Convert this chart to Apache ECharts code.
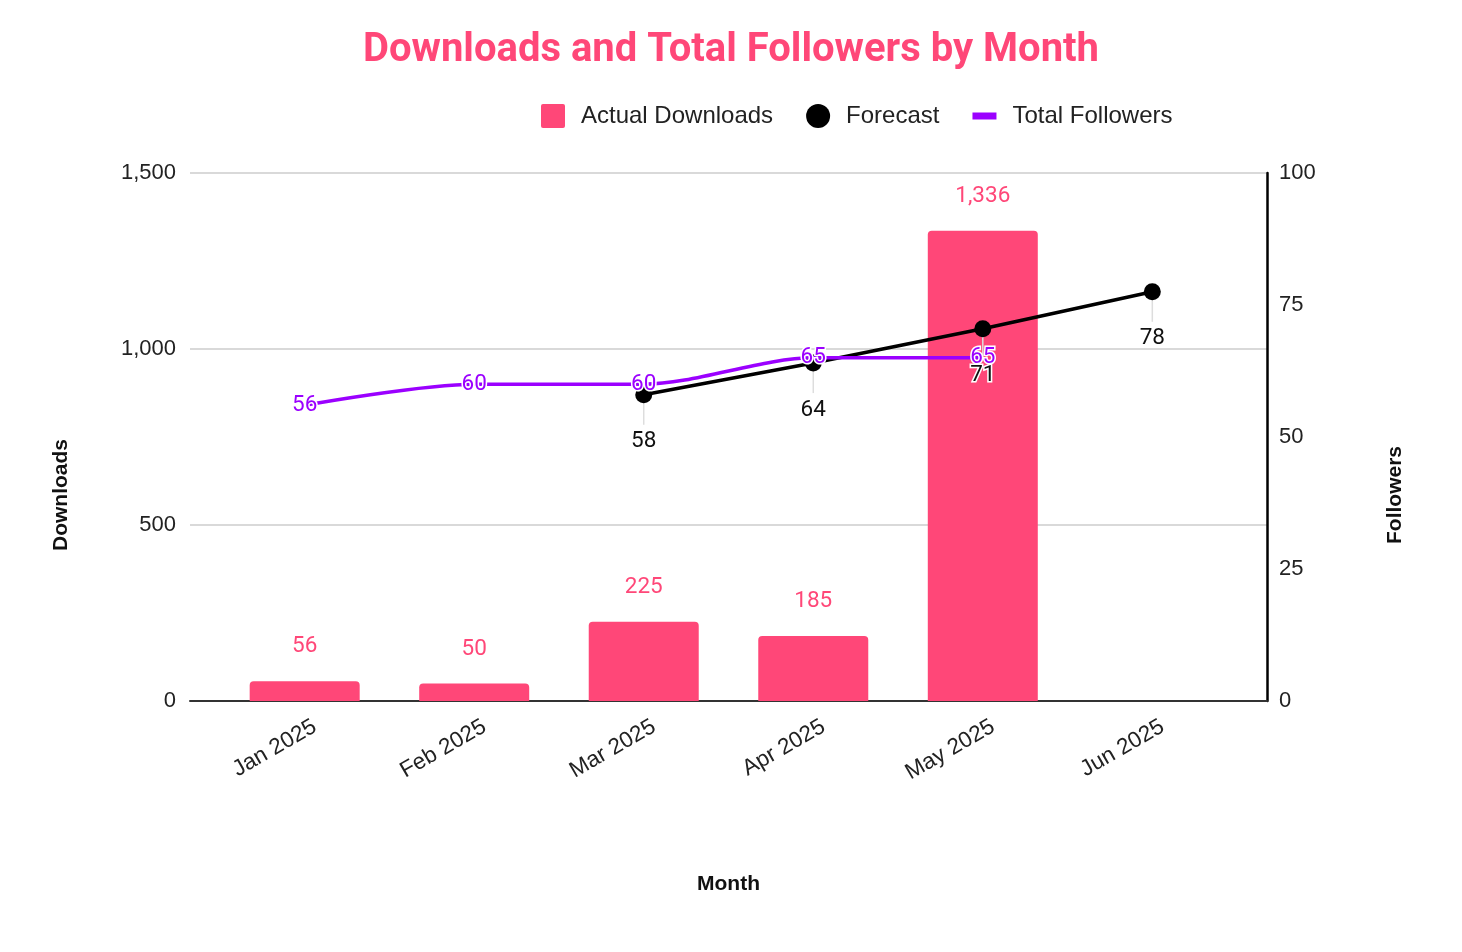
<!DOCTYPE html>
<html>
<head>
<meta charset="utf-8">
<title>Downloads and Total Followers by Month</title>
<script src="https://cdn.jsdelivr.net/npm/echarts@6/dist/echarts.min.js"></script>
<style>
  html, body { margin: 0; padding: 0; background: #fff; }
  #chart { width: 1462px; height: 952px; }
</style>
</head>
<body>
<div id="chart"></div>
<script>
// data
var months = ['Jan 2025', 'Feb 2025', 'Mar 2025', 'Apr 2025', 'May 2025', 'Jun 2025'];
var downloads = [56, 50, 225, 185, 1336, null];
var forecast = [null, null, 58, 64, 70.5, 77.5];
var followers = [56, 60, 60, 65, 65, null];
var downloadTicks = [0, 500, 1000, 1500];
var followerTicks = [0, 25, 50, 75, 100];

var pink = '#ff4778';
var purple = '#9b00ff';

function pairs(arr) {
    var out = [];
    arr.forEach(function (v, i) {
        if (v !== null) out.push([i, v]);
    });
    return out;
}

var myChart = echarts.init(document.getElementById('chart'));
var option = {
    backgroundColor: '#fff',
    title: {
        text: 'Downloads and Total Followers by Month',
        left: 'center',
        top: 26,
        textStyle: {
            color: pink,
            fontFamily: 'Roboto',
            fontWeight: 'bold',
            fontSize: 40
        }
    },
    legend: {
        top: 99,
        left: 536,
        itemGap: 33,
        itemWidth: 24,
        itemHeight: 24,
        textStyle: {
            fontFamily: 'Liberation Sans',
            fontSize: 24,
            color: '#222',
            padding: [0, 0, 0, 11]
        },
        data: [
            { name: 'Actual Downloads', icon: 'path://M2,0 L22,0 Q24,0 24,2 L24,22 Q24,24 22,24 L2,24 Q0,24 0,22 L0,2 Q0,0 2,0 Z' },
            { name: 'Forecast', icon: 'circle' },
            { name: 'Total Followers', icon: 'path://M0,0 L24,0 L24,7 L0,7 Z' }
        ]
    },
    grid: {
        left: 190,
        right: 195,
        top: 173,
        bottom: 251
    },
    xAxis: {
        type: 'value',
        min: -0.5 - 30 / 170,
        max: 5.5 + 30 / 170,
        name: 'Month',
        nameLocation: 'middle',
        nameGap: 173,
        nameTextStyle: {
            fontFamily: 'Liberation Sans',
            fontWeight: 'bold',
            fontSize: 21,
            color: '#111'
        },
        axisLine: { show: true, onZero: false, lineStyle: { color: '#333', width: 2 } },
        axisTick: { show: false },
        splitLine: { show: false },
        axisLabel: {
            // labels sit a little right of each bar centre, as in the original
            customValues: [0.06, 1.06, 2.06, 3.06, 4.06, 5.06],
            rotate: 30,
            margin: 24,
            fontFamily: 'Liberation Sans',
            fontSize: 22.5,
            color: '#222',
            formatter: function (v) { return months[Math.round(v)] || ''; }
        }
    },
    yAxis: [{
        type: 'value',
        min: downloadTicks[0],
        max: downloadTicks[downloadTicks.length - 1],
        interval: 500,
        name: 'Downloads',
        nameLocation: 'middle',
        nameRotate: 90,
        nameGap: 118,
        nameTextStyle: {
            fontFamily: 'Liberation Sans',
            fontWeight: 'bold',
            fontSize: 21,
            color: '#111',
            padding: [0, 116, 0, 0]
        },
        axisLine: { show: false },
        axisTick: { show: false },
        axisLabel: {
            margin: 14,
            fontFamily: 'Liberation Sans',
            fontSize: 22,
            color: '#222',
            formatter: function (v) { return v.toLocaleString('en-US'); }
        },
        splitLine: { lineStyle: { color: '#cccccc', width: 1.5 } }
    }, {
        type: 'value',
        position: 'right',
        min: followerTicks[0],
        max: followerTicks[followerTicks.length - 1],
        interval: 25,
        name: 'Followers',
        nameLocation: 'middle',
        nameRotate: 90,
        nameGap: 118,
        nameTextStyle: {
            fontFamily: 'Liberation Sans',
            fontWeight: 'bold',
            fontSize: 21,
            color: '#111',
            padding: [0, 116, 0, 0]
        },
        axisLine: { show: true, lineStyle: { color: '#000', width: 2.5 } },
        axisTick: { show: false },
        axisLabel: {
            margin: 12,
            fontFamily: 'Liberation Sans',
            fontSize: 22,
            color: '#222'
        },
        splitLine: { show: false }
    }],
    series: [{
        name: 'Actual Downloads',
        type: 'bar',
        yAxisIndex: 0,
        barWidth: 110,
        data: pairs(downloads),
        itemStyle: { color: pink, borderRadius: [4, 4, 0, 0] },
        label: {
            show: true,
            position: 'top',
            distance: 23,
            fontFamily: 'Roboto',
            fontSize: 22.5,
            color: pink,
            formatter: function (p) { return p.value[1].toLocaleString('en-US'); }
        },
        z: 2
    }, {
        // leader lines under forecast points
        name: 'forecastLeader',
        type: 'line',
        yAxisIndex: 1,
        data: pairs(forecast),
        lineStyle: { opacity: 0 },
        symbol: 'rect',
        symbolSize: [1.5, 22],
        symbolOffset: [0, 19],
        itemStyle: { color: '#dddddd' },
        silent: true,
        z: 3
    }, {
        name: 'Forecast',
        type: 'line',
        yAxisIndex: 1,
        data: pairs(forecast),
        symbol: 'circle',
        symbolSize: 17,
        showAllSymbol: true,
        lineStyle: { color: '#000', width: 3.5 },
        itemStyle: { color: '#000' },
        label: {
            show: true,
            position: 'bottom',
            distance: 27,
            fontFamily: 'Roboto',
            fontSize: 22.5,
            color: '#111',
            textBorderColor: '#fff',
            textBorderWidth: 3,
            formatter: function (p) { return Math.round(p.value[1]); }
        },
        z: 4
    }, {
        name: 'Total Followers',
        type: 'line',
        yAxisIndex: 1,
        data: pairs(followers),
        smooth: 0.3,
        symbol: 'none',
        lineStyle: { color: purple, width: 3.5 },
        itemStyle: { color: purple },
        z: 5
    }, {
        // value labels for followers, kept above the line
        name: 'followersLabels',
        type: 'scatter',
        yAxisIndex: 1,
        data: pairs(followers),
        symbolSize: 2,
        itemStyle: { color: purple, opacity: 1 },
        label: {
            show: true,
            position: ['50%', '50%'],
            align: 'center',
            verticalAlign: 'middle',
            fontFamily: 'Roboto',
            fontSize: 22.5,
            color: purple,
            opacity: 1,
            textBorderColor: '#fff',
            textBorderWidth: 3,
            formatter: function (p) { return p.value[1]; }
        },
        labelLayout: { hideOverlap: false },
        silent: true,
        z: 6
    }]
};
// Use the option to draw the chart
myChart.setOption(option);
window.addEventListener('resize', function () {
    myChart.resize();
});
</script>
</body>
</html>
